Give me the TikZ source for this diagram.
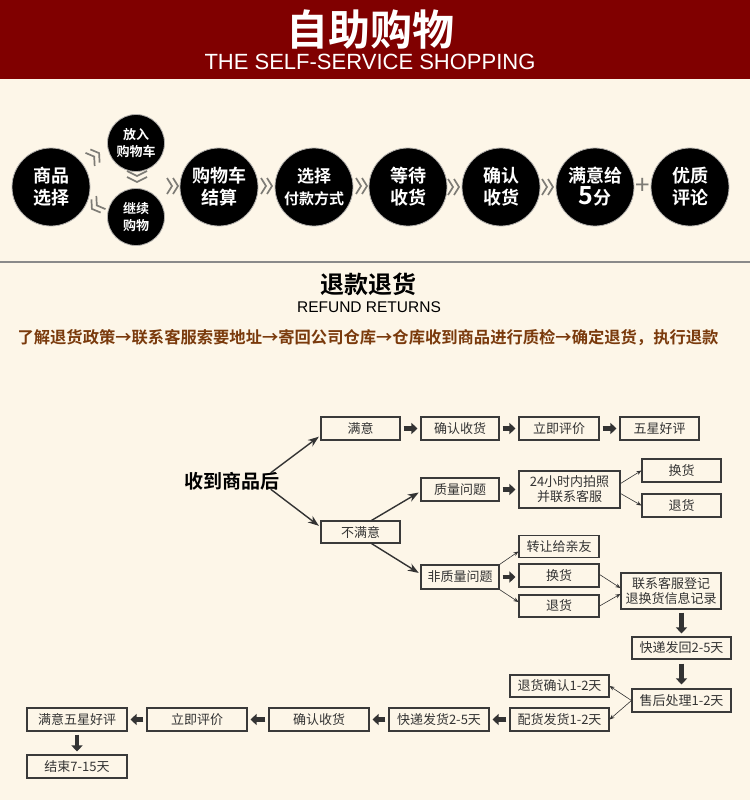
\documentclass[tikz,border=0pt]{standalone}
\usepackage{fontspec}
\setmainfont{Noto Sans CJK SC}[BoldFont={Noto Sans CJK SC Bold}]
\newfontfamily\latinsans{Liberation Sans}
\usetikzlibrary{arrows.meta}
\definecolor{paper}{HTML}{FDF6E8}
\definecolor{banner}{HTML}{800000}
\definecolor{ink}{HTML}{333333}
\definecolor{frame}{HTML}{3A3A3A}
\definecolor{chevron}{HTML}{7E7C76}
\definecolor{policy}{HTML}{7A3A0C}
\definecolor{rule}{HTML}{8A8A8A}

\begin{document}
\begin{tikzpicture}[x=1pt,y=-1pt,
  every node/.style={inner sep=0pt},
  bigdot/.style={circle,fill=black,draw=chevron!60,line width=.8pt,minimum size=78pt,
    text=white,align=center,font=\fontsize{18}{22}\selectfont\bfseries},
  smalldot/.style={bigdot,minimum size=57pt,font=\fontsize{13}{17}\selectfont\bfseries},
  stepbox/.style={draw=frame,line width=1.1pt,fill=paper,minimum height=23pt,
    text=ink,align=center,font=\fontsize{13}{15}\selectfont},
  fat/.style={-{Triangle[length=6pt,width=11pt]},line width=4.5pt,draw=ink,
    shorten <=3pt,shorten >=3pt},
  thin/.style={-{Stealth[length=5pt,width=4pt]},line width=.6pt,draw=ink},
  branch/.style={-{Stealth[length=11pt,width=8pt]},line width=1.4pt,draw=ink,shorten >=2pt},
  chevron line/.style={draw=chevron,line width=1.7pt},
  chev/.pic={\draw[chevron line] (-6,-8)--(-1,0)--(-6,8) (0,-8)--(5,0)--(0,8);}]

\useasboundingbox (0,0) rectangle (750,800);
\fill[paper] (0,0) rectangle (750,800);

% banner
\fill[banner] (0,0) rectangle (750,79);
\node[text=white,font=\fontsize{42}{42}\selectfont\bfseries] (title) at (370,30) {自助购物};
\node[text=white,font=\latinsans\fontsize{22}{22}\selectfont] (subtitle) at (370,62)
  {THE SELF-SERVICE SHOPPING};

% shopping steps
\node[bigdot] (select) at (51,187) {商品\\选择};
\node[smalldot] (putin) at (136,143) {放入\\购物车};
\node[smalldot] (goon) at (136,217) {继续\\购物};
\node[bigdot] (checkout) at (219,187) {购物车\\结算};
\node[bigdot,font=\fontsize{15}{22}\selectfont\bfseries] (paymode) at (314,187)
  {{\fontsize{17}{17}\selectfont 选择}\\付款方式};
\node[bigdot] (waitrecv) at (408,187) {等待\\收货};
\node[bigdot] (confirm) at (501,187) {确认\\收货};
\node[bigdot] (rate) at (595,187) {满意给\\{\fontsize{25}{25}\selectfont 5}分};
\node[bigdot] (review) at (690,187) {优质\\评论};

\pic[rotate=35] at (95,156) {chev};
\pic[rotate=215] at (96,206) {chev};
\draw[chevron line] (127,171)--(137,176)--(147,171) (127,177)--(137,182)--(147,177);
\pic at (173,186) {chev};
\pic at (267,186) {chev};
\pic at (362,186) {chev};
\pic at (454,187) {chev};
\pic at (548,187) {chev};
\node[text=chevron,font=\fontsize{26}{26}\selectfont] (plus) at (643,186) {+};

\draw[rule,line width=1.2pt] (0,262) -- (750,262);

% refund section
\node[font=\fontsize{24}{24}\selectfont\bfseries] (refund) at (368,284) {退款退货};
\node[font=\latinsans\fontsize{15.5}{16}\selectfont] (refunden) at (369,307) {REFUND RETURNS};
\node[text=policy,font=\fontsize{16.3}{17}\selectfont\bfseries] (policy) at (368,338)
  {了解退货政策→联系客服索要地址→寄回公司仓库→仓库收到商品进行质检→确定退货，执行退款};

% flow chart
\node[font=\fontsize{19}{20}\selectfont\bfseries] (recv) at (232,481) {收到商品后};

\node[stepbox,minimum width=79pt] (happy) at (360.5,428.5) {满意};
\node[stepbox,minimum width=78pt] (confirmA) at (460,428.5) {确认收货};
\node[stepbox,minimum width=80pt] (rateA) at (559,428.5) {立即评价};
\node[stepbox,minimum width=79pt] (fivestar) at (659.5,428.5) {五星好评};

\node[stepbox,minimum width=79pt,minimum height=22pt] (unhappy) at (360.5,532) {不满意};
\node[stepbox,minimum width=78pt] (quality) at (460,489.5) {质量问题};
\node[stepbox,minimum width=101pt,minimum height=37pt] (photo) at (569.5,489.5)
  {24小时内拍照\\并联系客服};
\node[stepbox,minimum width=79pt] (swapA) at (681.5,470.5) {换货};
\node[stepbox,minimum width=79pt] (returnA) at (681.5,505.5) {退货};

\node[stepbox,minimum width=78pt,minimum height=24pt] (nonquality) at (460,577) {非质量问题};
\node[stepbox,minimum width=80pt,minimum height=22pt] (gift) at (559,546.5) {转让给亲友};
\node[stepbox,minimum width=80pt] (swapB) at (559,575.5) {换货};
\node[stepbox,minimum width=80pt,minimum height=22pt] (returnB) at (559,606) {退货};
\node[stepbox,minimum width=100pt,minimum height=36pt] (register) at (671,591)
  {联系客服登记\\退换货信息记录};

\node[stepbox,minimum width=99pt,minimum height=22pt] (sendback) at (681.5,648) {快递发回2-5天};
\node[stepbox,minimum width=99pt] (aftersale) at (681.5,700.5) {售后处理1-2天};
\node[stepbox,minimum width=99pt,minimum height=22pt] (returnok) at (559.5,686) {退货确认1-2天};
\node[stepbox,minimum width=99pt] (reship) at (559.5,719.5) {配货发货1-2天};
\node[stepbox,minimum width=100pt] (express) at (439,719.5) {快递发货2-5天};
\node[stepbox,minimum width=100pt] (confirmB) at (319,719.5) {确认收货};
\node[stepbox,minimum width=100pt] (rateB) at (197,719.5) {立即评价};
\node[stepbox,minimum width=100pt] (happyfive) at (77,719.5) {满意五星好评};
\node[stepbox,minimum width=100pt] (finish) at (77,766.5) {结束7-15天};

% connectors
\draw[branch] ([xshift=-9pt,yshift=-1pt]recv.north east) -- ([yshift=-7pt]happy.west);
\draw[branch] ([xshift=-9pt,yshift=1pt]recv.south east) -- ([yshift=5pt]unhappy.west);
\draw[branch] ([xshift=11pt]unhappy.north) -- ([yshift=-2pt]quality.west);
\draw[branch] ([xshift=11pt]unhappy.south) -- ([yshift=3pt]nonquality.west);

\draw[fat] (happy) -- (confirmA);
\draw[fat] (confirmA) -- (rateA);
\draw[fat] (rateA) -- (fivestar);
\draw[fat] (quality) -- (photo);
\draw[thin] ([yshift=6pt]photo.east) -- (swapA.west);
\draw[thin] ([yshift=-4pt]photo.east) -- (returnA.west);

\draw[thin] (nonquality.north east) -- ([yshift=-5pt]gift.west);
\draw[fat] (nonquality.east) -- (nonquality.east -| swapB.west);
\draw[thin] (nonquality.south east) -- ([yshift=4pt]returnB.west);
\draw[thin] ([yshift=1pt]swapB.east) -- ([yshift=3pt]register.west);
\draw[thin] (returnB.east) -- ([yshift=-3pt]register.west);

\draw[fat] (sendback.north |- register.south) -- (sendback.north);
\draw[fat,shorten <=4pt,shorten >=4pt] (sendback) -- (aftersale);
\draw[thin] (aftersale.west) -- (returnok.east);
\draw[thin] (aftersale.west) -- (reship.east);
\draw[fat] (reship) -- (express);
\draw[fat] (express) -- (confirmB);
\draw[fat] (confirmB) -- (rateB);
\draw[fat] (rateB) -- (happyfive);
\draw[fat] (happyfive) -- (finish);
\end{tikzpicture}
\end{document}
